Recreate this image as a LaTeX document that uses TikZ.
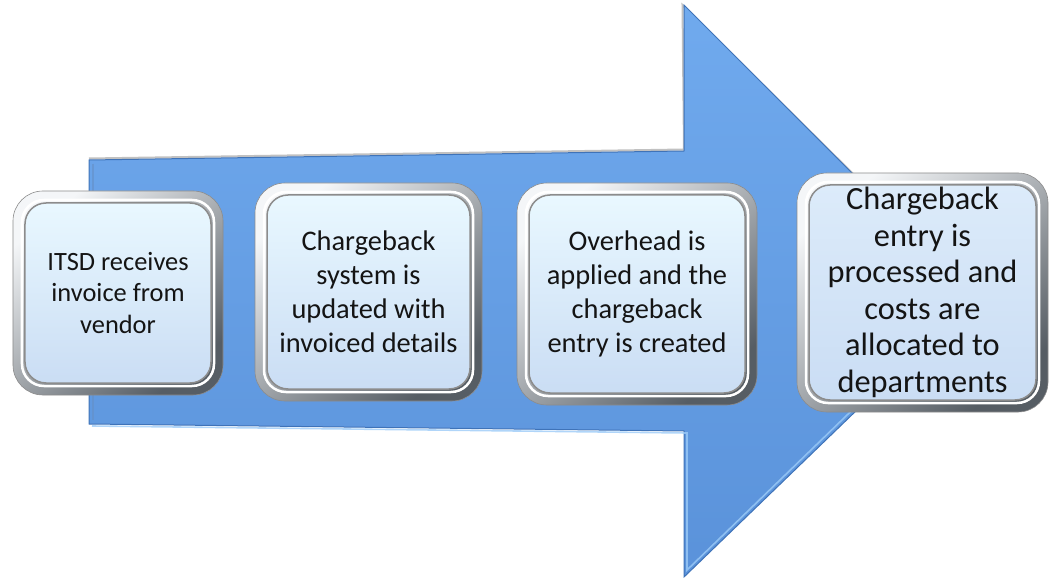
\documentclass[tikz,border=0pt]{standalone}
\usepackage{fontspec}
\setmainfont{Carlito}
\usetikzlibrary{calc}

\definecolor{arrowtop}{HTML}{70AAEE}
\definecolor{arrowbot}{HTML}{5A92DA}
\definecolor{arrowedge}{HTML}{3F73B8}
\definecolor{arrowhi}{HTML}{9CCBF7}
\definecolor{bevellight}{HTML}{F4F6F8}
\definecolor{bevelmid}{HTML}{BFC5CB}
\definecolor{beveldark}{HTML}{565D64}
\definecolor{cardtop}{HTML}{E9F8FF}
\definecolor{cardbot}{HTML}{CADDF4}
\definecolor{cardtopb}{HTML}{DCEBFA}

\tikzset{
  stepcard/.style={
    rectangle, rounded corners=30bp, inner sep=0pt, align=center,
    text=black!92,
    top color=bevellight, middle color=bevelmid, bottom color=beveldark,
    shading angle=40,
    draw=black!45, line width=0.6bp,
    path picture={
      \draw[white, line width=2.5bp, rounded corners=22bp]
        ([shift={(9bp,9bp)}]path picture bounding box.south west) rectangle
        ([shift={(-9bp,-9bp)}]path picture bounding box.north east);
      \shade[rounded corners=21bp, top color=#1, bottom color=cardbot,
             draw=black!45, line width=1.5bp]
        ([shift={(12bp,12bp)}]path picture bounding box.south west) rectangle
        ([shift={(-12bp,-12bp)}]path picture bounding box.north east);
    }
  },
  stepcard/.default=cardtop
}

\begin{document}
\begin{tikzpicture}[x=1bp, y=-1bp]
  \useasboundingbox (0,0) rectangle (1051,578);

  % the big process arrow
  \coordinate (s1) at (89,160);
  \coordinate (s2) at (684,151);
  \coordinate (h1) at (684,5);
  \coordinate (tip) at (975,296);
  \coordinate (h2) at (684,577);
  \coordinate (s3) at (684,431);
  \coordinate (s4) at (89,424);
  \draw[black!70, line width=2bp, opacity=0.35]
    ([yshift=1.5bp]s1) -- ([yshift=1.5bp]s2) -- ([xshift=-1.5bp]h1) -- ([xshift=1.5bp]tip);
  \shade[top color=arrowtop, bottom color=arrowbot, draw=arrowedge, line width=1bp]
    (s1) -- (s2) -- (h1) -- (tip) -- (h2) -- (s3) -- (s4) -- cycle;
  \draw[arrowhi, line width=1.6bp, opacity=0.8]
    (92,426) -- (687,433) -- (687,570) -- (970,296);
  \draw[arrowedge!80, line width=1.2bp, opacity=0.6]
    (93,164) -- (93,420);

  % the four steps
  \node[stepcard, minimum width=210bp, minimum height=204bp,
        font=\fontsize{26.5}{31.5}\selectfont] (c1) at (118,293)
    {ITSD receives\\invoice from\\vendor};
  \node[stepcard, minimum width=227bp, minimum height=218bp,
        font=\fontsize{28.5}{34}\selectfont] (c2) at (368.5,292)
    {Chargeback\\system is\\updated with\\invoiced details};
  \node[stepcard, minimum width=240bp, minimum height=222bp,
        font=\fontsize{28.5}{34}\selectfont] (c3) at (637,294)
    {Overhead is\\applied and the\\chargeback\\entry is created};
  \node[stepcard=cardtopb, minimum width=251bp, minimum height=239bp,
        font=\fontsize{32.5}{36.6}\selectfont] (c4) at (922.5,292.5)
    {Chargeback\\entry is\\processed and\\costs are\\allocated to\\departments};
\end{tikzpicture}
\end{document}
